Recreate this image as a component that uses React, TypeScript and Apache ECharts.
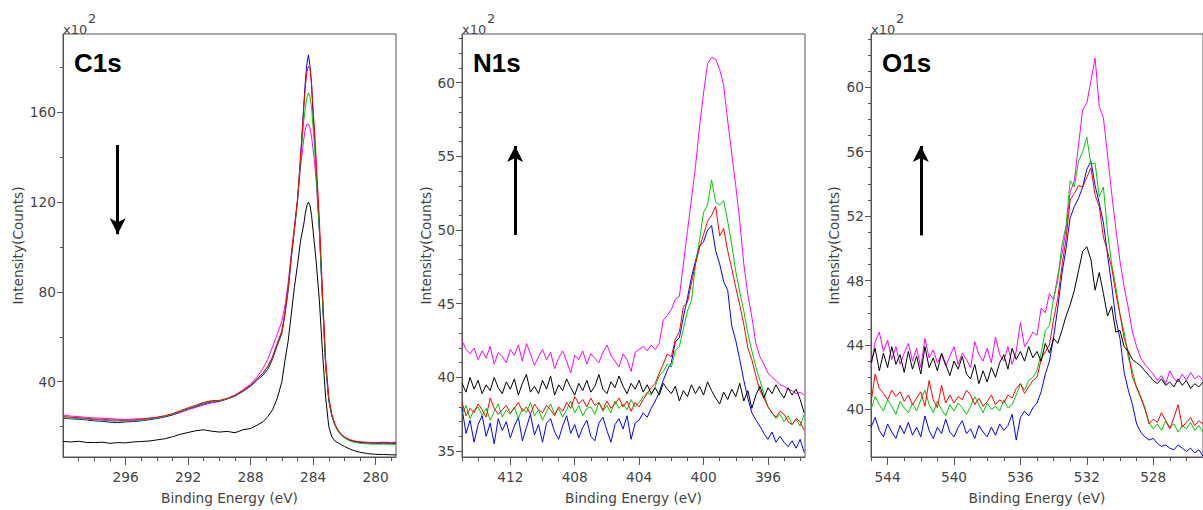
import React, { useEffect, useRef } from "react";
import * as echarts from "echarts";

// ---------------- C1s ----------------
const C1S_ENERGY = [300, 299.5, 299, 298.5, 298, 297.5, 297, 296.5, 296, 295.5, 295, 294.5, 294, 293.5, 293, 292.5, 292, 291.5, 291, 290.5, 290, 289.5, 289, 288.5, 288, 287.6, 287.2, 286.9, 286.6, 286.3, 286.0, 285.8, 285.6, 285.4, 285.2, 285.0, 284.8, 284.6, 284.5, 284.4, 284.3, 284.2, 284.1, 284.0, 283.9, 283.8, 283.6, 283.4, 283.2, 283.0, 282.8, 282.6, 282.4, 282.2, 282.0, 281.7, 281.4, 281.0, 280.5, 280.0, 279.5, 279.0, 278.7];
const C1S_BLACK = [13.4, 13.2, 13.5, 13.0, 12.9, 13.1, 12.6, 12.9, 12.8, 13.2, 13.4, 13.6, 14.1, 14.6, 15.5, 16.6, 17.4, 18.2, 18.6, 18.0, 17.6, 17.9, 17.3, 18.6, 19.2, 20.6, 22.2, 24.5, 27.5, 32.5, 40.0, 49.5, 58.0, 70.0, 82.0, 92.0, 103.0, 110.0, 115.0, 118.5, 120.0, 118.5, 114.0, 107.0, 100.0, 93.0, 76.0, 53.0, 33.0, 20.0, 15.5, 13.6, 12.8, 12.0, 11.2, 10.2, 9.4, 8.6, 8.0, 7.7, 7.6, 7.5, 7.4];
const C1S_RED = [24.5, 24.2, 24.0, 23.7, 23.4, 23.3, 23.0, 22.9, 22.8, 23.0, 23.3, 23.7, 24.2, 24.9, 25.8, 27.1, 28.4, 29.6, 30.8, 31.6, 31.7, 32.6, 34.0, 36.0, 38.5, 41.2, 44.0, 47.0, 51.0, 57.0, 62.5, 71.0, 81.5, 95.5, 108.0, 121.0, 140.5, 162.0, 171.0, 178.0, 180.4, 179.5, 173.0, 161.0, 151.0, 138.0, 112.0, 80.0, 50.0, 33.0, 25.5, 21.0, 18.5, 16.6, 15.5, 14.3, 13.7, 13.2, 13.0, 12.9, 13.0, 12.8, 13.0];
const C1S_GREEN = [24.0, 23.7, 23.6, 23.3, 23.1, 22.9, 22.6, 22.5, 22.4, 22.7, 22.9, 23.4, 23.9, 24.6, 25.5, 26.8, 28.0, 29.3, 30.5, 31.3, 31.5, 32.4, 33.8, 35.8, 38.3, 41.0, 43.8, 46.5, 51.0, 57.0, 62.5, 71.0, 81.0, 95.5, 107.5, 120.5, 139.0, 156.0, 162.0, 166.5, 168.6, 167.0, 162.0, 153.0, 144.0, 132.0, 107.0, 76.0, 47.5, 32.0, 24.8, 20.6, 18.0, 16.2, 15.0, 13.8, 13.1, 12.6, 12.3, 12.2, 12.3, 12.1, 12.2];
const C1S_BLUE = [23.8, 23.5, 23.3, 23.0, 22.6, 22.4, 22.0, 21.8, 22.1, 22.3, 22.6, 23.1, 23.6, 24.3, 25.2, 26.6, 27.9, 29.0, 30.2, 31.0, 31.3, 32.3, 33.6, 35.6, 38.0, 40.6, 43.0, 45.5, 50.0, 56.0, 61.5, 70.0, 80.5, 95.0, 107.5, 120.5, 140.0, 163.0, 173.5, 181.5, 185.5, 180.5, 172.0, 158.0, 147.0, 134.0, 108.0, 76.0, 47.0, 31.5, 24.5, 20.5, 18.0, 16.3, 15.2, 14.0, 13.4, 13.0, 12.7, 12.6, 12.5, 12.7, 12.4];
const C1S_MAGENTA = [25.2, 24.7, 24.5, 24.1, 23.9, 23.8, 23.6, 23.3, 23.2, 23.4, 23.5, 23.8, 24.1, 24.6, 25.3, 26.3, 27.5, 28.6, 29.7, 30.6, 31.2, 32.4, 34.0, 36.4, 39.0, 42.0, 46.0, 50.0, 55.5, 61.0, 67.0, 74.0, 84.0, 97.0, 109.0, 121.0, 136.0, 148.0, 152.5, 154.5, 154.7, 153.0, 149.0, 143.0, 137.0, 129.0, 107.0, 77.0, 48.0, 32.5, 25.0, 21.0, 18.2, 16.5, 15.4, 14.2, 13.5, 13.1, 13.0, 12.9, 13.1, 12.9, 13.1];

// ---------------- N1s (recorded from 415 eV downwards, 0.25 eV steps) ----------------
const N1S_FIRST_ENERGY = 415;
const N1S_STEP = 0.25;
const N1S_BLACK = [39.6, 39.0, 40.0, 39.2, 39.8, 38.9, 39.5, 39.1, 40.0, 39.3, 38.9, 39.7, 39.2, 39.9, 38.8, 39.6, 40.2, 39.0, 39.4, 38.9, 39.8, 39.2, 40.1, 38.8, 39.5, 39.1, 39.9, 39.3, 38.8, 39.6, 39.1, 39.8, 39.0, 39.4, 40.2, 39.2, 38.9, 39.7, 39.3, 40.1, 39.4, 38.9, 39.6, 39.2, 39.8, 39.0, 39.5, 38.9, 39.3, 38.8, 39.6, 39.2, 38.9, 39.4, 38.4, 39.1, 38.7, 39.5, 38.9, 39.4, 38.8, 39.7, 39.1, 38.6, 38.2, 39.0, 38.5, 39.2, 38.7, 39.6, 38.4, 39.1, 37.9, 38.8, 39.4, 38.6, 39.3, 38.9, 39.5, 39.0, 38.6, 39.3, 38.8, 39.2, 38.5, 37.6];
const N1S_RED = [38.3, 37.4, 37.9, 37.6, 38.2, 37.8, 37.3, 38.6, 37.9, 37.5, 37.8, 38.1, 37.6, 37.9, 38.3, 37.7, 38.0, 37.5, 38.2, 37.8, 37.6, 38.1, 37.8, 37.4, 38.0, 37.7, 38.3, 37.9, 38.7, 38.2, 38.5, 38.0, 38.6, 38.1, 38.3, 37.8, 38.4, 37.9, 38.2, 38.6, 38.0, 38.4, 37.7, 38.3, 38.0, 38.5, 38.9, 39.3, 39.6, 40.3, 40.9, 41.6, 41.4, 42.6, 43.1, 44.8, 45.1, 46.4, 47.7, 48.8, 49.7, 50.6, 51.0, 51.6, 49.6, 50.1, 48.6, 47.4, 46.1, 44.9, 43.6, 42.0, 41.2, 40.1, 39.1, 38.6, 38.0, 37.6, 37.3, 37.7, 37.5, 37.0, 36.8, 37.2, 37.0, 36.4];
const N1S_GREEN = [37.5, 38.1, 37.2, 37.8, 38.0, 37.4, 37.9, 37.1, 37.7, 38.2, 37.3, 37.8, 37.5, 38.0, 37.2, 37.9, 37.6, 38.3, 37.4, 37.8, 37.1, 37.7, 38.2, 37.5, 37.9, 37.3, 37.8, 38.4, 37.6, 38.1, 37.4, 37.9, 38.0, 37.5, 38.3, 37.7, 38.1, 37.6, 38.4, 37.9, 38.2, 37.8, 38.5, 38.0, 38.3, 38.7, 39.0, 38.8, 39.4, 40.1, 40.4, 40.9, 40.7, 41.8, 42.1, 43.3, 44.5, 45.2, 47.7, 49.3, 51.2, 51.7, 53.4, 51.9, 51.7, 52.0, 50.6, 49.0, 47.2, 45.8, 44.5, 43.0, 41.8, 40.7, 39.8, 38.9, 38.0, 37.6, 37.2, 37.5, 37.0, 37.4, 36.8, 37.2, 36.7, 37.5];
const N1S_BLUE = [37.9, 36.2, 37.1, 35.6, 36.8, 37.4, 36.0, 36.9, 35.5, 37.2, 36.4, 37.0, 35.9, 36.7, 37.3, 35.7, 36.6, 37.5, 36.1, 36.8, 35.6, 36.9, 37.2, 36.3, 35.8, 36.7, 37.4, 36.2, 36.8, 35.9, 36.6, 37.1, 36.0, 35.7, 36.9, 37.3, 36.4, 35.6, 36.8, 37.2, 36.5, 37.4, 35.8, 36.9, 37.1, 37.6, 37.3, 37.9, 38.4, 39.0, 39.8, 40.5, 41.0, 42.4, 42.7, 44.1, 45.4, 46.8, 47.9, 48.9, 49.2, 50.0, 50.3, 48.6, 47.7, 46.5, 45.9, 43.5, 42.5, 41.2, 39.8, 38.6, 37.6, 37.1, 36.7, 36.2, 35.8, 36.3, 35.6, 36.0, 35.6, 35.3, 35.7, 35.2, 35.8, 34.9];
const N1S_MAGENTA = [42.5, 41.9, 41.6, 42.0, 41.2, 41.8, 41.3, 42.1, 40.9, 41.7, 41.4, 41.0, 41.9, 41.5, 42.2, 41.1, 42.3, 41.6, 40.8, 41.4, 41.9, 41.2, 41.7, 40.6, 41.3, 41.8, 41.1, 40.3, 41.5, 41.2, 41.8, 40.9, 41.6, 41.3, 41.0, 41.7, 42.2, 41.5, 41.1, 40.7, 41.6, 41.2, 40.4, 41.7, 41.9, 42.1, 41.8, 42.2, 41.9, 42.3, 43.9, 44.2, 44.6, 45.3, 45.5, 47.7, 49.9, 52.1, 54.3, 57.0, 59.3, 61.3, 61.7, 61.6, 60.9, 59.8, 57.4, 55.2, 53.0, 50.6, 47.7, 45.6, 44.1, 42.3, 41.4, 40.9, 40.3, 40.0, 39.8, 39.5, 39.4, 39.2, 39.1, 38.9, 39.0, 38.8];

// ---------------- O1s (recorded from 545 eV downwards, 0.25 eV steps) ----------------
const O1S_FIRST_ENERGY = 545;
const O1S_STEP = 0.25;
const O1S_BLACK = [42.9, 43.8, 42.4, 43.5, 42.6, 43.9, 42.8, 43.4, 42.3, 43.6, 42.5, 43.3, 42.2, 43.9, 42.6, 43.2, 42.4, 43.5, 42.8, 42.1, 43.0, 42.5, 43.3, 42.2, 41.9, 42.8, 41.6, 42.4, 41.7, 42.6, 42.0, 42.9, 43.4, 42.5, 43.8, 43.1, 43.6, 43.0, 43.9, 43.2, 43.6, 43.0, 44.1, 43.5, 44.4, 44.1, 44.9, 45.8, 46.5, 47.4, 48.6, 49.8, 50.1, 49.3, 47.4, 48.5, 47.2, 45.8, 46.4, 44.8, 44.9, 43.9, 43.6, 43.1, 42.9, 42.7, 42.4, 42.1, 41.8, 41.6, 41.9, 41.5, 41.7, 41.4, 41.9, 41.5, 41.8, 41.3, 41.6, 41.4, 41.7];
const O1S_RED = [40.4, 42.2, 41.3, 41.0, 40.6, 41.2, 40.8, 41.1, 40.5, 40.9, 40.3, 40.7, 41.1, 40.2, 41.8, 40.6, 40.1, 41.5, 40.4, 40.9, 40.4, 40.8, 40.6, 41.2, 40.9, 40.3, 40.7, 40.2, 40.5, 40.9, 40.3, 40.6, 40.4, 40.9, 40.7, 41.3, 41.6, 41.0, 41.4, 41.8, 42.0, 43.1, 43.6, 44.0, 45.6, 46.9, 48.9, 50.6, 53.0, 53.4, 53.9, 53.8, 54.4, 55.0, 53.3, 52.6, 50.7, 49.8, 48.8, 47.2, 45.9, 44.4, 43.6, 42.0, 41.4, 40.8, 40.1, 39.1, 39.4, 39.2, 39.8, 39.3, 38.8, 39.5, 40.3, 38.9, 39.2, 39.5, 39.0, 39.3, 39.1];
const O1S_GREEN = [40.0, 40.8, 40.3, 39.9, 40.6, 40.2, 39.7, 40.5, 40.1, 39.8, 40.4, 39.9, 40.6, 41.2, 40.3, 39.8, 40.5, 40.0, 39.6, 40.3, 39.9, 40.4, 40.1, 39.7, 40.2, 40.8, 40.3, 39.8, 40.4, 40.0, 40.2, 39.9, 40.6, 40.1, 40.3, 40.9, 41.6, 41.2, 41.8, 42.0, 42.4, 43.5, 44.9, 45.2, 46.9, 48.0, 50.2, 51.4, 54.2, 53.8, 55.4, 56.0, 56.9, 55.2, 55.3, 53.2, 53.8, 51.0, 49.0, 47.6, 45.9, 44.8, 43.2, 42.4, 41.3, 40.7, 40.0, 39.2, 38.8, 39.1, 38.7, 39.3, 38.9, 39.1, 38.6, 39.0, 38.8, 39.2, 38.7, 39.0, 38.6];
const O1S_BLUE = [38.9, 39.5, 38.7, 38.3, 39.1, 38.6, 38.2, 39.0, 38.5, 39.2, 38.4, 38.9, 38.3, 39.6, 38.7, 38.2, 38.9, 38.5, 39.4, 38.6, 38.3, 38.9, 39.3, 38.5, 38.8, 38.2, 39.0, 38.6, 38.3, 38.9, 38.4, 39.1, 38.7, 39.0, 39.7, 38.1, 39.5, 39.9, 39.6, 40.1, 40.4, 41.1, 42.2, 43.0, 44.5, 46.3, 48.4, 50.0, 51.9, 52.6, 53.1, 53.8, 54.9, 55.4, 53.9, 52.8, 51.6, 49.6, 47.7, 45.6, 44.4, 42.3, 41.2, 40.3, 39.1, 38.6, 38.3, 38.1, 38.2, 37.9, 37.7, 37.8, 37.6, 37.5, 37.8, 37.6, 37.4, 37.6, 37.3, 37.5, 37.1];
const O1S_MAGENTA = [42.6, 44.2, 44.8, 43.6, 44.3, 43.1, 43.9, 42.8, 43.5, 44.1, 43.0, 43.8, 42.6, 44.4, 43.2, 43.7, 42.9, 43.4, 42.7, 43.3, 43.9, 42.8, 43.5, 43.1, 42.6, 44.2, 43.4, 43.0, 43.8, 42.9, 44.5, 43.4, 43.0, 43.9, 42.8, 43.6, 45.4, 43.9, 44.3, 44.8, 44.6, 46.3, 46.0, 47.2, 46.8, 48.3, 49.6, 51.2, 53.5, 54.2, 56.4, 58.6, 59.0, 60.4, 61.8, 58.8, 58.1, 55.8, 53.4, 51.2, 49.2, 47.6, 46.3, 44.8, 43.9, 43.2, 42.8, 42.5, 42.2, 41.8, 42.1, 41.6, 42.4, 41.9, 41.7, 42.2, 41.8, 42.3, 41.9, 42.1, 41.8];

// ---------------- axes / annotations ----------------
const PANEL_TITLES = ["C1s", "N1s", "O1s"];
const X_RANGES = [[278.7, 300], [393.7, 415], [525, 545]];
const Y_RANGES = [[6.5, 194.8], [34.6, 63.3], [37.05, 63.3]];
const X_MAJOR_TICKS = [[280, 284, 288, 292, 296], [396, 400, 404, 408, 412], [528, 532, 536, 540, 544]];
const X_MINOR_TICKS = [
  [279, 281, 282, 283, 285, 286, 287, 289, 290, 291, 293, 294, 295, 297, 298, 299],
  [394, 395, 397, 398, 399, 401, 402, 403, 405, 406, 407, 409, 410, 411, 413, 414, 415],
  [526, 527, 529, 530, 531, 533, 534, 535, 537, 538, 539, 541, 542, 543, 545],
];
const Y_MAJOR_TICKS = [[40, 80, 120, 160], [35, 40, 45, 50, 55, 60], [40, 44, 48, 52, 56, 60]];
const Y_MINOR_TICKS = [
  [20, 60, 100, 140, 180],
  [36, 37, 38, 39, 41, 42, 43, 44, 46, 47, 48, 49, 51, 52, 53, 54, 56, 57, 58, 59, 61, 62, 63],
  [38, 39, 41, 42, 43, 45, 46, 47, 49, 50, 51, 53, 54, 55, 57, 58, 59, 61, 62, 63],
];
// arrow: [energy, tail intensity, tip intensity]
const ARROWS = [[296.5, 145.4, 105.7], [411.7, 49.66, 55.7], [542.0, 50.8, 56.35]];
const X_NAME = "Binding Energy (eV)";
const Y_NAME = "Intensity(Counts)";

const COLORS: Record<string, string> = {
  magenta: "#ff00ff",
  blue: "#0000ff",
  green: "#00c800",
  red: "#ff0000",
  black: "#000000",
};

const energyGrid = (first: number, step: number, n: number) =>
  Array.from({ length: n }, (_, i) => +(first - i * step).toFixed(2));

const PANELS = [
  { energy: C1S_ENERGY, values: { magenta: C1S_MAGENTA, blue: C1S_BLUE, green: C1S_GREEN, red: C1S_RED, black: C1S_BLACK } },
  { energy: energyGrid(N1S_FIRST_ENERGY, N1S_STEP, N1S_BLACK.length), values: { magenta: N1S_MAGENTA, blue: N1S_BLUE, green: N1S_GREEN, red: N1S_RED, black: N1S_BLACK } },
  { energy: energyGrid(O1S_FIRST_ENERGY, O1S_STEP, O1S_BLACK.length), values: { magenta: O1S_MAGENTA, blue: O1S_BLUE, green: O1S_GREEN, red: O1S_RED, black: O1S_BLACK } },
];

// layout
const GRIDS = [
  { left: 63, width: 333 },
  { left: 462, width: 343 },
  { left: 871, width: 356 },
];
const GRID_TOP = 34;
const GRID_HEIGHT = 427;
const Y_NAME_GAPS = [38, 29, 30];
const AXIS_COLOR = "#555555";
const LABEL_COLOR = "#444444";
const FONT = "DejaVu Sans";

export default function App() {
  const ref = useRef<HTMLDivElement>(null);

  useEffect(() => {
    if (!ref.current) return;
    const chart = echarts.init(ref.current, null, { renderer: "svg" });

    const grid: any[] = [];
    const xAxis: any[] = [];
    const yAxis: any[] = [];
    const series: any[] = [];
    const graphic: any[] = [];

    GRIDS.forEach((g, p) => {
      grid.push({
        left: g.left,
        top: GRID_TOP,
        width: g.width,
        height: GRID_HEIGHT,
        show: true,
        borderColor: AXIS_COLOR,
        borderWidth: 1,
        backgroundColor: "transparent",
      });
      const [xmin, xmax] = X_RANGES[p];
      const [ymin, ymax] = Y_RANGES[p];
      xAxis.push({
        type: "value",
        gridIndex: p,
        min: xmin,
        max: xmax,
        inverse: true,
        position: "bottom",
        axisLine: { show: true, onZero: false, lineStyle: { color: AXIS_COLOR, width: 1 } },
        axisTick: { show: true, customValues: X_MAJOR_TICKS[p], length: 8, lineStyle: { color: AXIS_COLOR } },
        axisLabel: { customValues: X_MAJOR_TICKS[p], margin: 13, color: LABEL_COLOR, fontFamily: FONT, fontSize: 13.7 },
        splitLine: { show: false },
        name: X_NAME,
        nameLocation: "middle",
        nameGap: 34,
        nameTextStyle: { color: LABEL_COLOR, fontFamily: FONT, fontSize: 13.7 },
      });
      xAxis.push({
        type: "value",
        gridIndex: p,
        min: xmin,
        max: xmax,
        inverse: true,
        position: "bottom",
        axisLine: { show: false, onZero: false },
        axisTick: { show: true, customValues: X_MINOR_TICKS[p], length: 4, lineStyle: { color: AXIS_COLOR } },
        axisLabel: { show: false },
        splitLine: { show: false },
      });
      yAxis.push({
        type: "value",
        gridIndex: p,
        min: ymin,
        max: ymax,
        position: "left",
        axisLine: { show: true, onZero: false, lineStyle: { color: AXIS_COLOR, width: 1 } },
        axisTick: { show: true, customValues: Y_MAJOR_TICKS[p], length: 6, lineStyle: { color: AXIS_COLOR } },
        axisLabel: {
          customValues: Y_MAJOR_TICKS[p],
          margin: 7,
          color: LABEL_COLOR,
          fontFamily: FONT,
          fontSize: 13.7,
          verticalAlign: "middle",
          padding: [0, 0, 10, 0],
        },
        splitLine: { show: false },
        name: Y_NAME,
        nameLocation: "middle",
        nameRotate: 90,
        nameGap: Y_NAME_GAPS[p],
        nameTextStyle: { color: LABEL_COLOR, fontFamily: FONT, fontSize: 13.7 },
      });
      yAxis.push({
        type: "value",
        gridIndex: p,
        min: ymin,
        max: ymax,
        position: "left",
        axisLine: { show: false, onZero: false },
        axisTick: { show: true, customValues: Y_MINOR_TICKS[p], length: 3, lineStyle: { color: AXIS_COLOR } },
        axisLabel: { show: false },
        splitLine: { show: false },
      });

      const panel = PANELS[p];
      (Object.keys(COLORS) as string[]).forEach((key) => {
        const vals: number[] = (panel.values as any)[key];
        const s: any = {
          type: "line",
          xAxisIndex: 2 * p,
          yAxisIndex: 2 * p,
          data: panel.energy.map((e, i) => [e, vals[i]]),
          showSymbol: false,
          symbol: "none",
          silent: true,
          clip: true,
          animation: false,
          lineStyle: { color: COLORS[key], width: 1 },
          itemStyle: { color: COLORS[key] },
        };
        if (key === "black") {
          const [ax, y1, y2] = ARROWS[p];
          s.markLine = {
            silent: true,
            animation: false,
            symbol: ["none", "arrow"],
            symbolSize: [12, 16],
            lineStyle: { color: "#000000", width: 3, type: "solid" },
            label: { show: false },
            emphasis: { disabled: true },
            data: [[{ coord: [ax, y1] }, { coord: [ax, y2] }]],
          };
        }
        series.push(s);
      });

      graphic.push(
        {
          type: "text",
          x: g.left + 11,
          y: 62.5,
          silent: true,
          style: {
            text: PANEL_TITLES[p],
            font: 'bold 26px "Liberation Sans", Arial, sans-serif',
            fill: "#000000",
            align: "left",
            verticalAlign: "middle",
          },
        },
        {
          type: "text",
          x: g.left,
          y: 29,
          silent: true,
          style: {
            text: "x10",
            font: '13px "DejaVu Sans"',
            fill: LABEL_COLOR,
            align: "left",
            verticalAlign: "middle",
          },
        },
        {
          type: "text",
          x: g.left + 25,
          y: 18,
          silent: true,
          style: {
            text: "2",
            font: '13px "DejaVu Sans"',
            fill: LABEL_COLOR,
            align: "left",
            verticalAlign: "middle",
          },
        }
      );
    });

    chart.setOption({
      animation: false,
      backgroundColor: "#ffffff",
      grid,
      xAxis,
      yAxis,
      series,
      graphic,
    });

    return () => {
      chart.dispose();
    };
  }, []);

  return (
    <div
      ref={ref}
      style={{ position: "absolute", left: 0, top: 0, width: 1203, height: 510 }}
    />
  );
}
